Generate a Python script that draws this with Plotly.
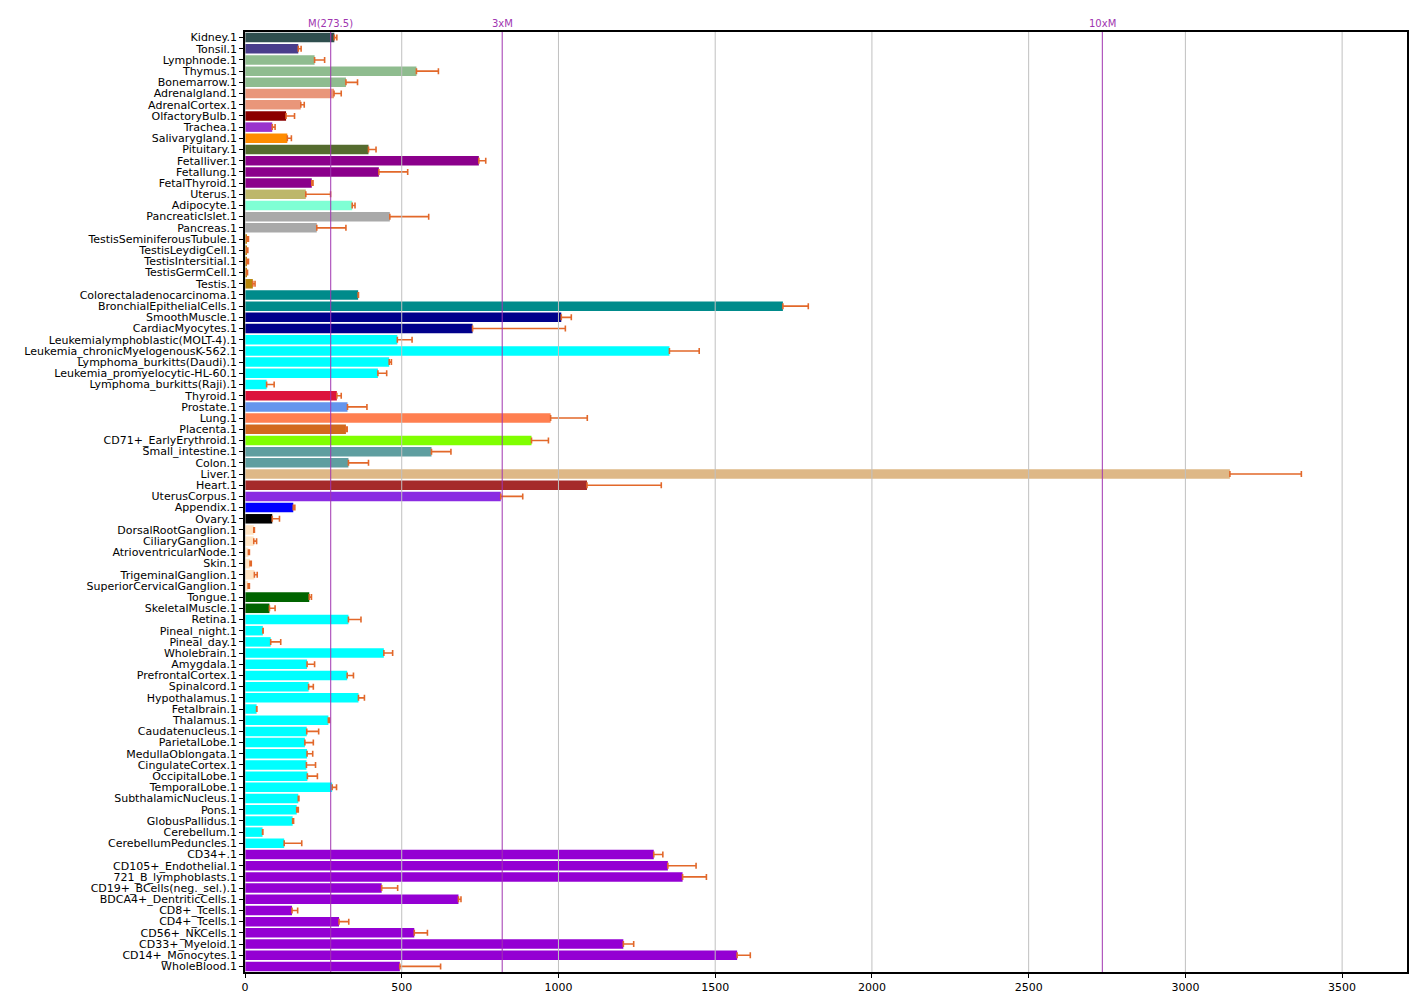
import plotly.graph_objects as go

tissues = [
    "Kidney.1", "Tonsil.1", "Lymphnode.1", "Thymus.1", "Bonemarrow.1", "Adrenalgland.1",
    "AdrenalCortex.1", "OlfactoryBulb.1", "Trachea.1", "Salivarygland.1", "Pituitary.1",
    "Fetalliver.1", "Fetallung.1", "FetalThyroid.1", "Uterus.1", "Adipocyte.1",
    "PancreaticIslet.1", "Pancreas.1", "TestisSeminiferousTubule.1", "TestisLeydigCell.1",
    "TestisIntersitial.1", "TestisGermCell.1", "Testis.1", "Colorectaladenocarcinoma.1",
    "BronchialEpithelialCells.1", "SmoothMuscle.1", "CardiacMyocytes.1",
    "Leukemialymphoblastic(MOLT-4).1", "Leukemia_chronicMyelogenousK-562.1",
    "Lymphoma_burkitts(Daudi).1", "Leukemia_promyelocytic-HL-60.1", "Lymphoma_burkitts(Raji).1",
    "Thyroid.1", "Prostate.1", "Lung.1", "Placenta.1", "CD71+_EarlyErythroid.1",
    "Small_intestine.1", "Colon.1", "Liver.1", "Heart.1", "UterusCorpus.1", "Appendix.1",
    "Ovary.1", "DorsalRootGanglion.1", "CiliaryGanglion.1", "AtrioventricularNode.1", "Skin.1",
    "TrigeminalGanglion.1", "SuperiorCervicalGanglion.1", "Tongue.1", "SkeletalMuscle.1",
    "Retina.1", "Pineal_night.1", "Pineal_day.1", "Wholebrain.1", "Amygdala.1",
    "PrefrontalCortex.1", "Spinalcord.1", "Hypothalamus.1", "Fetalbrain.1", "Thalamus.1",
    "Caudatenucleus.1", "ParietalLobe.1", "MedullaOblongata.1", "CingulateCortex.1",
    "OccipitalLobe.1", "TemporalLobe.1", "SubthalamicNucleus.1", "Pons.1", "GlobusPallidus.1",
    "Cerebellum.1", "CerebellumPeduncles.1", "CD34+.1", "CD105+_Endothelial.1",
    "721_B_lymphoblasts.1", "CD19+_BCells(neg._sel.).1", "BDCA4+_DentriticCells.1",
    "CD8+_Tcells.1", "CD4+_Tcells.1", "CD56+_NKCells.1", "CD33+_Myeloid.1",
    "CD14+_Monocytes.1", "WholeBlood.1",
]

values = [
    285, 170, 222, 547, 322, 284, 178, 131, 87, 135, 394,
    746, 427, 213, 194, 342, 462, 229, 6, 5, 6, 5, 25, 361,
    1716, 1009, 726, 486, 1354, 460, 424, 69,
    293, 327, 975, 322, 914, 595, 330, 3142, 1091, 816, 154,
    87, 28, 28, 11, 16, 30, 10, 205, 78,
    330, 57, 82, 443, 198, 326, 203, 362, 37, 266,
    197, 191, 198, 196, 199, 278, 170, 165, 152, 56, 125,
    1304, 1349, 1396, 436, 681, 150, 300, 540, 1207, 1570, 494,
]

errors_upper = [
    293, 179, 254, 617, 359, 307, 189, 158, 96, 148, 418,
    768, 519, 217, 273, 351, 586, 322, 11, 9, 11, 8, 32, 362,
    1797, 1041, 1022, 533, 1449, 467, 452, 93,
    307, 389, 1092, 326, 968, 657, 394, 3370, 1328, 886, 159,
    110, 30, 37, 14, 20, 39, 14, 212, 96,
    370, 58, 114, 471, 222, 346, 218, 381, 38, 270,
    235, 218, 216, 225, 231, 292, 172, 170, 155, 57, 181,
    1333, 1439, 1472, 487, 689, 168, 331, 582, 1240, 1612, 624,
]

bar_colors = (
    ["#2F4F4F", "#483D8B", "#8FBC8F", "#8FBC8F", "#8FBC8F", "#E9967A", "#E9967A",
     "#8B0000", "#9932CC", "#FF8C00", "#556B2F", "#8B008B", "#8B008B", "#8B008B",
     "#BDB76B", "#7FFFD4", "#A9A9A9", "#A9A9A9"]
    + ["#B8860B"] * 5
    + ["#008B8B", "#008B8B", "#00008B", "#00008B"]
    + ["#00FFFF"] * 5
    + ["#DC143C", "#6495ED", "#FF7F50", "#D2691E", "#7FFF00", "#5F9EA0", "#5F9EA0",
       "#DEB887", "#A52A2A", "#8A2BE2", "#0000FF", "#000000"]
    + ["#FFE4C4"] * 6
    + ["#006400", "#006400"]
    + ["#00FFFF"] * 21
    + ["#9400D3"] * 11
)

median_value = 273.5
marker_lines = [("M(273.5)", 1), ("3xM", 3), ("10xM", 10)]
x_ticks = [0, 500, 1000, 1500, 2000, 2500, 3000, 3500]
x_max = max(errors_upper) * 1.1

err_plus = [e - v for e, v in zip(errors_upper, values)]

fig = go.Figure()
fig.add_trace(go.Bar(
    y=tissues,
    x=values,
    orientation="h",
    marker=dict(color=bar_colors, line=dict(width=0)),
    error_x=dict(type="data", array=err_plus, arrayminus=[0] * len(values),
                 symmetric=False, color="#E2682A", thickness=1.6, width=3),
    showlegend=False,
))

shapes = []
for t in x_ticks:
    shapes.append(dict(type="line", xref="x", yref="paper", x0=t, x1=t, y0=0, y1=1,
                       line=dict(color="#C0C0C0", width=1), layer="above"))
annotations = []
for label, mult in marker_lines:
    xv = median_value * mult
    shapes.append(dict(type="line", xref="x", yref="paper", x0=xv, x1=xv, y0=0, y1=1,
                       line=dict(color="#A035B0", width=1), layer="above"))
    annotations.append(dict(x=xv, y=1, xref="x", yref="paper", text=label,
                            showarrow=False, yanchor="bottom", yshift=1,
                            font=dict(size=10, color="#A035B0")))

fig.update_layout(
    width=1426, height=1008,
    margin=dict(l=245, r=19, t=32, b=36),
    plot_bgcolor="white", paper_bgcolor="white",
    bargap=0.15,
    font=dict(family="DejaVu Sans", size=11, color="black"),
    shapes=shapes, annotations=annotations,
    xaxis=dict(range=[0, x_max], tickmode="array", tickvals=x_ticks, showgrid=False,
               zeroline=False, showline=True, mirror=True, linecolor="black", linewidth=1.5,
               ticks="outside", ticklen=4, tickcolor="black", layer="above traces",
               tickfont=dict(size=11)),
    yaxis=dict(range=[len(tissues) - 0.5, -0.5], tickmode="array", tickvals=tissues,
               ticktext=tissues, showgrid=False, zeroline=False,
               showline=True, mirror=True, linecolor="black", linewidth=1.5,
               ticks="outside", ticklen=4, tickcolor="black", layer="above traces",
               tickfont=dict(size=11)),
)

fig.write_html("out.html")
